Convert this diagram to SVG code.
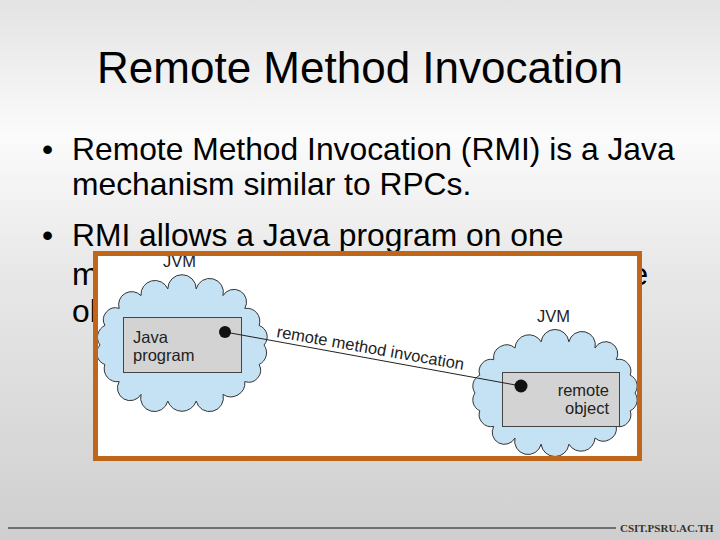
<svg xmlns="http://www.w3.org/2000/svg" width="720" height="540" viewBox="0 0 720 540">
  <defs>
    <linearGradient id="bg" x1="0" y1="0" x2="0" y2="1">
      <stop offset="0" stop-color="#e3e3e3"/>
      <stop offset="0.25" stop-color="#fbfbfb"/>
      <stop offset="0.5" stop-color="#e8e8e8"/>
      <stop offset="1" stop-color="#cfcfcf"/>
    </linearGradient>
    <style>
      .title { font-family: "Liberation Sans", Arial, sans-serif; font-size: 44px; fill: #000; }
      .bullet { font-family: "Liberation Sans", Arial, sans-serif; font-size: 31.8px; fill: #000; }
      .lbl { font-family: "Liberation Sans", Arial, sans-serif; font-size: 16.5px; fill: #222; }
      .cloud { fill: #c4e2f4; stroke: #333; stroke-width: 1; }
      .box { fill: #d3d3d3; stroke: #444; stroke-width: 1; }
      .dot { fill: #111; }
      .conn { stroke: #222; stroke-width: 1; fill: none; }
      .footer { font-family: "Liberation Serif", "Times New Roman", serif; font-size: 11px; font-weight: bold; fill: #333; }
    </style>
  </defs>

  <rect x="0" y="0" width="720" height="540" fill="url(#bg)"/>

  <text class="title" x="360" y="83" text-anchor="middle">Remote Method Invocation</text>

  <g id="bullets">
    <text class="bullet" x="42" y="160">•</text>
    <text class="bullet" x="72" y="160">Remote Method Invocation (RMI) is a Java</text>
    <text class="bullet" x="72" y="195">mechanism similar to RPCs.</text>
    <text class="bullet" x="42" y="246">•</text>
    <text class="bullet" x="72" y="246">RMI allows a Java program on one</text>
    <text class="bullet" x="72" y="285">machine to invoke a method on a remote</text>
    <text class="bullet" x="72" y="322">object.</text>
  </g>

  <g id="figure">
    <rect x="95.5" y="253.5" width="544" height="205" fill="#ffffff"/>

    <g id="jvm-left">
      <path class="cloud" d="M264,345 A13,13 0 0 1 259.1,364.5 A12,12 0 0 1 244.8,381.6 A14,14 0 0 1 223,394.4 A13,13 0 0 1 196.2,401.1 A15,15 0 0 1 167.8,401.1 A13,13 0 0 1 141,394.4 A12,12 0 0 1 119.2,381.6 A13,13 0 0 1 104.9,364.5 A12,12 0 0 1 100,345 A13,13 0 0 1 104.9,325.5 A12,12 0 0 1 119.2,308.4 A13,13 0 0 1 141,295.6 A14,14 0 0 1 167.8,288.9 A14,14 0 0 1 196.2,288.9 A13,13 0 0 1 223,295.6 A12,12 0 0 1 244.8,308.4 A13,13 0 0 1 259.1,325.5 A12,12 0 0 1 264,345 Z"/>
      <text class="lbl" x="163" y="267" font-size="17">JVM</text>
    </g>

    <g id="jvm-right">
      <path class="cloud" d="M635,393 A12,12 0 0 1 630.2,410.8 A12,12 0 0 1 616.3,426.4 A13,13 0 0 1 595,438 A14,14 0 0 1 568.9,444.2 A14,14 0 0 1 541.1,444.2 A13,13 0 0 1 515,438 A12,12 0 0 1 493.7,426.4 A12,12 0 0 1 479.8,410.8 A12,12 0 0 1 475,393 A12,12 0 0 1 479.8,375.2 A12,12 0 0 1 493.7,359.6 A13,13 0 0 1 515,348 A14,14 0 0 1 541.1,341.8 A14,14 0 0 1 568.9,341.8 A13,13 0 0 1 595,348 A12,12 0 0 1 616.3,359.6 A12,12 0 0 1 630.2,375.2 A12,12 0 0 1 635,393 Z"/>
      <text class="lbl" x="537" y="322" font-size="17">JVM</text>
    </g>

    <g id="java-program">
      <rect class="box" x="123.5" y="317.5" width="118" height="55"/>
      <text class="lbl" x="133" y="343">Java</text>
      <text class="lbl" x="133" y="361">program</text>
    </g>

    <g id="remote-object">
      <rect class="box" x="502.5" y="372.5" width="117" height="54"/>
      <text class="lbl" x="609" y="396" text-anchor="end">remote</text>
      <text class="lbl" x="609" y="414" text-anchor="end">object</text>
    </g>

    <g id="connectors">
      <line class="conn" x1="225" y1="332" x2="521" y2="386"/>
      <circle class="dot" cx="225" cy="332" r="6"/>
      <circle class="dot" cx="521" cy="386" r="6.5"/>
      <text class="lbl" x="276" y="337" font-size="17.5" transform="rotate(10 276 337)">remote method invocation</text>
    </g>

    <rect x="95.5" y="253.5" width="544" height="205" fill="none" stroke="#c0661a" stroke-width="5"/>
  </g>

  <g id="footer">
    <line x1="8" y1="528" x2="616" y2="528" stroke="#111" stroke-width="1.2"/>
    <text class="footer" x="620" y="532">CSIT.PSRU.AC.TH</text>
  </g>
</svg>
